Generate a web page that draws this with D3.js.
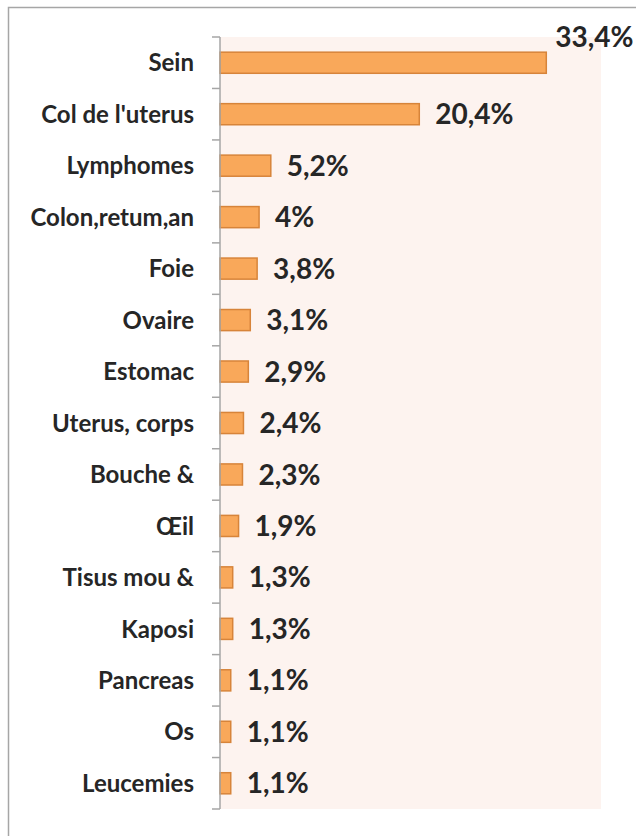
<!DOCTYPE html>
<html>
<head>
<meta charset="utf-8">
<script src="https://cdn.jsdelivr.net/npm/d3@7"></script>
<style>
  body { margin: 0; background: #fff; }
  text { font-family: Lato, "Open Sans", sans-serif; font-weight: bold; fill: #262626; }
</style>
</head>
<body>
<script>
// categories and values (percent)
var categories = ["Sein", "Col de l'uterus", "Lymphomes", "Colon,retum,an", "Foie", "Ovaire",
  "Estomac", "Uterus, corps", "Bouche &", "Œil", "Tisus mou &", "Kaposi", "Pancreas", "Os", "Leucemies"];
var values = [33.4, 20.4, 5.2, 4, 3.8, 3.1, 2.9, 2.4, 2.3, 1.9, 1.3, 1.3, 1.1, 1.1, 1.1];
var valueLabels = ["33,4%", "20,4%", "5,2%", "4%", "3,8%", "3,1%", "2,9%", "2,4%", "2,3%",
  "1,9%", "1,3%", "1,3%", "1,1%", "1,1%", "1,1%"];

const width = 636;
const height = 836;
const plotLeft = 220, plotRight = 601, plotTop = 37, plotBottom = 809;

var svg = d3.select("body").append("svg")
    .attr("width", width)
    .attr("height", height);

// outer chart border
svg.append("path")
    .attr("d", "M8.5," + height + " V7.5 H" + width)
    .attr("fill", "none")
    .attr("stroke", "#a6a6a6")
    .attr("stroke-width", 1.5);

var x = d3.scaleLinear().domain([0, 39]).range([plotLeft, plotRight]);
var y = d3.scaleBand().domain(categories).range([plotTop, plotBottom]).paddingInner(0.59).paddingOuter(0.295);

// plot area background
svg.append("rect")
    .attr("x", plotLeft).attr("y", plotTop)
    .attr("width", plotRight - plotLeft).attr("height", plotBottom - plotTop)
    .attr("fill", "#fdf3ef");

// bars
svg.selectAll(".bar")
    .data(values)
    .enter()
    .append("rect")
    .attr("class", "bar")
    .attr("x", x(0))
    .attr("y", function(d, i) { return y(categories[i]); })
    .attr("width", function(d) { return x(d) - x(0); })
    .attr("height", y.bandwidth())
    .attr("fill", "#f9a85a")
    .attr("stroke", "#d7843a")
    .attr("stroke-width", 1.5);

// axis line and ticks at category boundaries
var step = (plotBottom - plotTop) / categories.length;
svg.append("line")
    .attr("x1", plotLeft).attr("x2", plotLeft)
    .attr("y1", plotTop).attr("y2", plotBottom)
    .attr("stroke", "#a6a6a6").attr("stroke-width", 1.5);
svg.selectAll(".tick")
    .data(d3.range(categories.length + 1))
    .enter()
    .append("line")
    .attr("x1", plotLeft - 8).attr("x2", plotLeft)
    .attr("y1", function(i) { return plotTop + i * step; })
    .attr("y2", function(i) { return plotTop + i * step; })
    .attr("stroke", "#a6a6a6").attr("stroke-width", 1.5);

// category labels
svg.selectAll(".cat")
    .data(categories)
    .enter()
    .append("text")
    .attr("x", 194)
    .attr("y", function(d) { return y(d) + y.bandwidth() / 2; })
    .attr("dy", "0.36em")
    .attr("text-anchor", "end")
    .style("font-size", "24px")
    .text(function(d) { return d; });

// value labels
svg.selectAll(".val")
    .data(values)
    .enter()
    .append("text")
    .attr("x", function(d, i) { return i == 0 ? x(d) + 9 : x(d) + 16; })
    .attr("y", function(d, i) {
        var c = y(categories[i]) + y.bandwidth() / 2;
        return i == 0 ? c - 26 : c;
    })
    .attr("dy", "0.36em")
    .style("font-size", "28px")
    .text(function(d, i) { return valueLabels[i]; });
</script>
</body>
</html>
